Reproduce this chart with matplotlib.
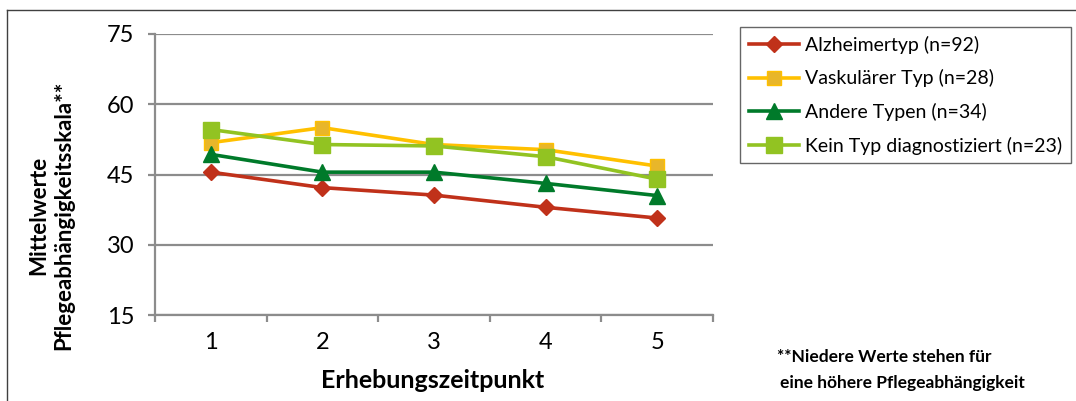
import matplotlib
matplotlib.use("Agg")
import matplotlib.pyplot as plt
from matplotlib.lines import Line2D

plt.rcParams['font.family'] = ['Lato', 'DejaVu Sans']

# Erhebungszeitpunkte und Mittelwerte je Demenztyp
zeitpunkte = [1, 2, 3, 4, 5]
alzheimer = [45.5, 42.2, 40.6, 38.0, 35.7]
vaskulaer = [51.8, 55.0, 51.4, 50.3, 46.8]
andere = [49.3, 45.5, 45.5, 43.1, 40.5]
kein_typ = [54.6, 51.4, 51.1, 48.8, 44.0]

labels = ["Alzheimertyp (n=92)", "Vaskulärer Typ (n=28)",
          "Andere Typen (n=34)", "Kein Typ diagnostiziert (n=23)"]
y_ticks = [15, 30, 45, 60, 75]

grid_col = "#8c8c8c"

fig = plt.figure(figsize=(10.76, 4.01), dpi=100)
ax = fig.add_axes([155 / 1076, 1 - 315 / 401, (713 - 155) / 1076, (315 - 34) / 401])

styles = [
    dict(color="#c0311a", marker="D", markersize=8.5, mfc="#c0311a", mec="#c0311a"),
    dict(color="#ffc000", marker="s", markersize=10, mfc="#e8b62a", mec="#ffc000"),
    dict(color="#007a2a", marker="^", markersize=11, mfc="#007a2a", mec="#007a2a"),
    dict(color="#92c322", marker="s", markersize=11, mfc="#92c322", mec="#92c322"),
]
series = [alzheimer, vaskulaer, andere, kein_typ]
for vals, st, lab in zip(series, styles, labels):
    ax.plot(zeitpunkte, vals, lw=2.6, label=lab, zorder=3, **st)

ax.set_ylim(15, 75)
ax.set_xlim(0.5, 5.5)
ax.set_yticks(y_ticks)
ax.set_xticks([x + 0.5 for x in range(0, 6)])
ax.set_xticklabels([])
ax.set_xticks(zeitpunkte, minor=True)
ax.set_xticklabels([str(z) for z in zeitpunkte], minor=True)
ax.tick_params(axis="x", which="major", direction="out", length=5, width=1.6, color=grid_col)
ax.tick_params(axis="x", which="minor", length=0, pad=12, labelsize=17)
ax.tick_params(axis="y", direction="out", length=5, width=1.6, color=grid_col, pad=10, labelsize=17)

ax.grid(axis="y", color=grid_col, lw=1.6, zorder=0)
for side in ["top", "right"]:
    ax.spines[side].set_visible(False)
for side in ["left", "bottom"]:
    ax.spines[side].set_color(grid_col)
    ax.spines[side].set_linewidth(1.6)

# Achsentitel
fig.text(51 / 1076, 1 - 215 / 401, "Mittelwerte\nPflegeabhängigkeitsskala**",
         rotation=90, ha="center", va="center", multialignment="center",
         fontsize=16, fontweight="bold", linespacing=1.25)
fig.text(433 / 1076, 1 - 381 / 401, "Erhebungszeitpunkt", ha="center", va="center",
         fontsize=18, fontweight="bold")

# Fußnote
fig.text(777 / 1076, 1 - 357 / 401, "**Niedere Werte stehen für", ha="left", va="center",
         fontsize=12.5, fontweight="bold")
fig.text(780 / 1076, 1 - 383 / 401, "eine höhere Pflegeabhängigkeit", ha="left", va="center",
         fontsize=12.5, fontweight="bold")

leg = fig.legend(loc="upper left", bbox_to_anchor=(740 / 1076, 1 - 27 / 401),
                 frameon=True, fancybox=False, fontsize=14, handlelength=2.6,
                 labelspacing=0.8, borderpad=0.45, handletextpad=0.3, borderaxespad=0)
leg.get_frame().set_edgecolor("#404040")
leg.get_frame().set_linewidth(1.0)

# Rahmen um das gesamte Diagramm
fig.add_artist(Line2D([7 / 1076, 7 / 1076], [0, 1 - 10 / 401], color="#404040", lw=1.0))
fig.add_artist(Line2D([7 / 1076, 1], [1 - 10 / 401, 1 - 10 / 401], color="#404040", lw=1.0))

fig.savefig("out.png", dpi=100)
